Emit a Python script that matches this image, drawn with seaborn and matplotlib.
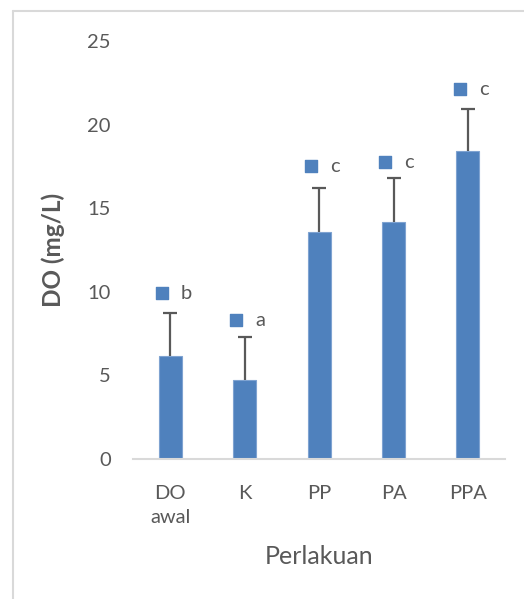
import numpy as np
import pandas as pd
import seaborn as sns
import matplotlib.pyplot as plt
from matplotlib.lines import Line2D

# data
treatments = ["DO\nawal", "K", "PP", "PA", "PPA"]
do_mean = [6.15, 4.7, 13.6, 14.2, 18.4]
do_err = [2.6, 2.6, 2.6, 2.6, 2.55]
letters = ["b", "a", "c", "c", "c"]
letter_y = [9.9, 8.3, 17.5, 17.75, 22.1]

BAR_COLOR = "#4F81BD"
TEXT_COLOR = "#595959"

sns.set_theme(style="white")
plt.rcParams['font.family'] = ['Lato', 'DejaVu Sans']

df = pd.DataFrame({"Perlakuan": treatments, "DO": do_mean})

fig = plt.figure(figsize=(5.24, 5.99), dpi=100)
ax = fig.add_axes([0.254, 0.2337, 0.71, 0.6979])

sns.barplot(data=df, x="Perlakuan", y="DO", color=BAR_COLOR, saturation=1,
            width=0.31, errorbar=None, edgecolor="#7FA3D1", linewidth=0.8, ax=ax)

x = np.arange(len(treatments))
tops = np.array(do_mean) + np.array(do_err)
# upper error bars only (stem + cap)
ax.vlines(x, do_mean, tops, color=TEXT_COLOR, lw=1.6, zorder=3)
ax.scatter(x, tops, marker="_", s=90, linewidths=1.6, color=TEXT_COLOR, zorder=3)

# significance letters with square key
ax.scatter(x - 0.113, letter_y, marker="s", s=70, color=BAR_COLOR, zorder=4)
for xi, yi, lab in zip(x, letter_y, letters):
    ax.text(xi + 0.145, yi, lab, ha="left", va="center", fontsize=14.5, color=TEXT_COLOR)

ax.set_ylim(0, 25)
ax.set_xlim(-0.5, 4.5)
ax.set_yticks([0, 5, 10, 15, 20, 25])
ax.tick_params(axis="y", length=0, pad=16, labelsize=14.5, labelcolor=TEXT_COLOR)
ax.tick_params(axis="x", length=0, pad=19, labelsize=14.5, labelcolor=TEXT_COLOR)
for lbl in ax.get_xticklabels():
    lbl.set_linespacing(1.45)

ax.set_ylabel("DO (mg/L)", fontsize=17.5, fontweight="bold", color=TEXT_COLOR)
ax.yaxis.set_label_coords(-0.183, 0.5)
ax.set_xlabel("Perlakuan", fontsize=18, color=TEXT_COLOR)
ax.xaxis.set_label_coords(0.5, -0.205)

sns.despine(ax=ax, left=True, top=True, right=True)
ax.spines["bottom"].set_color("#D9D9D9")
ax.spines["bottom"].set_linewidth(1.5)

# chart area border (left and top edges visible)
fig.add_artist(Line2D([13 / 524, 13 / 524], [0, 1 - 11 / 599], color="#D9D9D9", lw=1.5))
fig.add_artist(Line2D([13 / 524, 1], [1 - 11 / 599, 1 - 11 / 599], color="#D9D9D9", lw=1.5))

fig.savefig("out.png", dpi=100)
